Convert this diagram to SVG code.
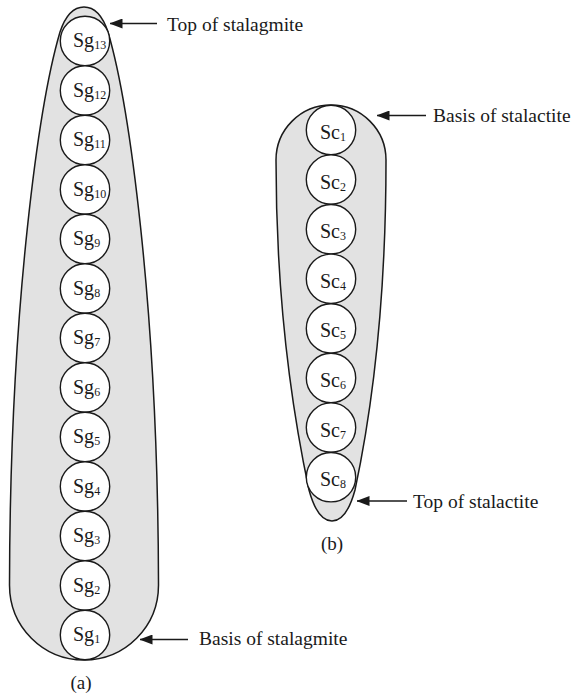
<svg xmlns="http://www.w3.org/2000/svg" width="573" height="696" viewBox="0 0 573 696">
<style>
.body{fill:#e2e2e2;stroke:#1a1a1a;stroke-width:1.5}
.cell{fill:#ffffff;stroke:#1a1a1a;stroke-width:1.4}
.lbl{font-family:"Liberation Serif","Times New Roman",serif;font-size:20px;fill:#1a1a1a}
.sub{font-size:12px}
.note{font-family:"Liberation Serif","Times New Roman",serif;font-size:19.5px;fill:#1a1a1a}
.cap{font-family:"Liberation Serif","Times New Roman",serif;font-size:19px;fill:#1a1a1a;text-anchor:middle}
.arr{stroke:#1a1a1a;stroke-width:1.4;fill:none;marker-end:url(#ah)}
</style>
<defs>
<marker id="ah" viewBox="0 0 13 10" refX="12.5" refY="5" markerWidth="13" markerHeight="10" markerUnits="userSpaceOnUse" orient="auto">
<path d="M0,0 L13,5 L0,10 Z" fill="#1a1a1a"/>
</marker>
</defs>

<g id="stalagmite">
<path class="body" d="M84 7 C93 7 102 14 108 32 C128 100 158 300 158.5 585 C158.5 627 125 660 84 660 C43 660 9.5 627 9.5 585 C10 300 40 100 60 32 C66 14 75 7 84 7 Z"/>
<g id="sg13"><circle class="cell" cx="85" cy="41" r="24.7"/><text class="lbl" x="73" y="47">Sg<tspan class="sub" dy="2">13</tspan></text></g>
<g id="sg12"><circle class="cell" cx="85" cy="90.5" r="24.7"/><text class="lbl" x="73" y="96.5">Sg<tspan class="sub" dy="2">12</tspan></text></g>
<g id="sg11"><circle class="cell" cx="85" cy="140" r="24.7"/><text class="lbl" x="73" y="146">Sg<tspan class="sub" dy="2">11</tspan></text></g>
<g id="sg10"><circle class="cell" cx="85" cy="189.5" r="24.7"/><text class="lbl" x="73" y="195.5">Sg<tspan class="sub" dy="2">10</tspan></text></g>
<g id="sg9"><circle class="cell" cx="85" cy="239" r="24.7"/><text class="lbl" x="73" y="245">Sg<tspan class="sub" dy="2">9</tspan></text></g>
<g id="sg8"><circle class="cell" cx="85" cy="288.5" r="24.7"/><text class="lbl" x="73" y="294.5">Sg<tspan class="sub" dy="2">8</tspan></text></g>
<g id="sg7"><circle class="cell" cx="85" cy="338" r="24.7"/><text class="lbl" x="73" y="344">Sg<tspan class="sub" dy="2">7</tspan></text></g>
<g id="sg6"><circle class="cell" cx="85" cy="387.5" r="24.7"/><text class="lbl" x="73" y="393.5">Sg<tspan class="sub" dy="2">6</tspan></text></g>
<g id="sg5"><circle class="cell" cx="85" cy="437" r="24.7"/><text class="lbl" x="73" y="443">Sg<tspan class="sub" dy="2">5</tspan></text></g>
<g id="sg4"><circle class="cell" cx="85" cy="486.5" r="24.7"/><text class="lbl" x="73" y="492.5">Sg<tspan class="sub" dy="2">4</tspan></text></g>
<g id="sg3"><circle class="cell" cx="85" cy="536" r="24.7"/><text class="lbl" x="73" y="542">Sg<tspan class="sub" dy="2">3</tspan></text></g>
<g id="sg2"><circle class="cell" cx="85" cy="585.5" r="24.7"/><text class="lbl" x="73" y="591.5">Sg<tspan class="sub" dy="2">2</tspan></text></g>
<g id="sg1"><circle class="cell" cx="85" cy="635" r="24.7"/><text class="lbl" x="73" y="641">Sg<tspan class="sub" dy="2">1</tspan></text></g>
</g>

<g id="stalactite">
<path class="body" d="M276 160 A55 55 0 0 1 386 160 C386 300 372 410 355 490 C349 512 341 521 332 521 C323 521 315 512 309 490 C292 410 276 300 276 160 Z"/>
<g id="sc1"><circle class="cell" cx="331" cy="130" r="24.7"/><text class="lbl" x="320" y="139">Sc<tspan class="sub" dy="2">1</tspan></text></g>
<g id="sc2"><circle class="cell" cx="331" cy="179.6" r="24.7"/><text class="lbl" x="320" y="188.6">Sc<tspan class="sub" dy="2">2</tspan></text></g>
<g id="sc3"><circle class="cell" cx="331" cy="229.2" r="24.7"/><text class="lbl" x="320" y="238.2">Sc<tspan class="sub" dy="2">3</tspan></text></g>
<g id="sc4"><circle class="cell" cx="331" cy="278.8" r="24.7"/><text class="lbl" x="320" y="287.8">Sc<tspan class="sub" dy="2">4</tspan></text></g>
<g id="sc5"><circle class="cell" cx="331" cy="328.4" r="24.7"/><text class="lbl" x="320" y="337.4">Sc<tspan class="sub" dy="2">5</tspan></text></g>
<g id="sc6"><circle class="cell" cx="331" cy="378" r="24.7"/><text class="lbl" x="320" y="387">Sc<tspan class="sub" dy="2">6</tspan></text></g>
<g id="sc7"><circle class="cell" cx="331" cy="427.6" r="24.7"/><text class="lbl" x="320" y="436.6">Sc<tspan class="sub" dy="2">7</tspan></text></g>
<g id="sc8"><circle class="cell" cx="331" cy="477.2" r="24.7"/><text class="lbl" x="320" y="486.2">Sc<tspan class="sub" dy="2">8</tspan></text></g>
</g>

<g id="connectors">
<line class="arr" x1="157" y1="23.5" x2="110" y2="23.5"/>
<line class="arr" x1="188" y1="639.5" x2="140" y2="639.5"/>
<line class="arr" x1="426" y1="115.5" x2="377" y2="115.5"/>
<line class="arr" x1="407" y1="501" x2="357" y2="501"/>
</g>

<g id="labels">
<text class="note" x="167" y="31">Top of stalagmite</text>
<text class="note" x="199" y="645">Basis of stalagmite</text>
<text class="note" x="433" y="122">Basis of stalactite</text>
<text class="note" x="413" y="508">Top of stalactite</text>
<text class="cap" x="81" y="689">(a)</text>
<text class="cap" x="332" y="550">(b)</text>
</g>
</svg>
